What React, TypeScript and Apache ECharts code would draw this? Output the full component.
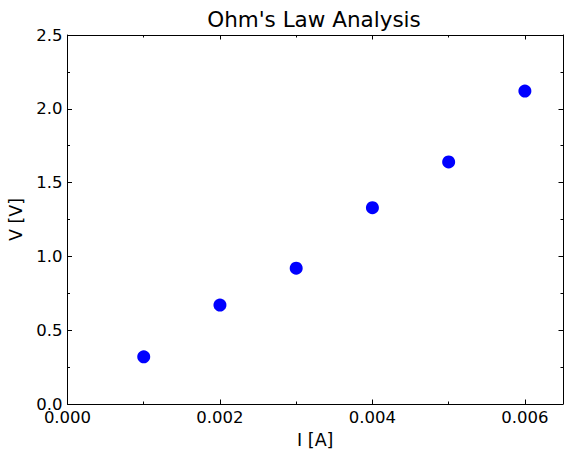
import { useEffect, useRef } from 'react';
import * as echarts from 'echarts';

// measured current (A) and voltage (V)
const currents = [0.001, 0.002, 0.003, 0.004, 0.005, 0.006];
const voltages = [0.32, 0.67, 0.92, 1.33, 1.64, 2.12];

// tick positions
const xMajor = [0, 0.002, 0.004, 0.006];
const xMinor = [0.001, 0.003, 0.005];
const yMajor = [0, 0.5, 1.0, 1.5, 2.0, 2.5];
const yMinor = [0.25, 0.75, 1.25, 1.75, 2.25];

const FONT = 'DejaVu Sans';
const X_MAX = 0.0065;
const Y_MAX = 2.5;

function xAxis(position: 'top' | 'bottom', ticks: number[], len: number, labels: boolean, line: boolean) {
  return {
    type: 'value' as const,
    position,
    min: 0,
    max: X_MAX,
    name: labels ? 'I [A]' : '',
    nameLocation: 'middle' as const,
    nameGap: 24,
    nameTextStyle: { fontFamily: FONT, fontSize: 17.5, color: '#000' },
    axisLine: { show: line, onZero: false, lineStyle: { color: '#000', width: 1 } },
    axisTick: { show: true, inside: true, length: len, customValues: ticks, lineStyle: { color: '#000', width: 1 } },
    axisLabel: {
      show: labels,
      customValues: ticks,
      margin: 5,
      fontFamily: FONT,
      fontSize: 16.5,
      color: '#000',
      formatter: (v: number) => v.toFixed(3),
    },
    splitLine: { show: false },
  };
}

function yAxis(position: 'left' | 'right', ticks: number[], len: number, labels: boolean, line: boolean) {
  return {
    type: 'value' as const,
    position,
    min: 0,
    max: Y_MAX,
    name: labels ? 'V [V]' : '',
    nameLocation: 'middle' as const,
    nameGap: 32,
    nameTextStyle: { fontFamily: FONT, fontSize: 17.5, color: '#000' },
    axisLine: { show: line, onZero: false, lineStyle: { color: '#000', width: 1 } },
    axisTick: { show: true, inside: true, length: len, customValues: ticks, lineStyle: { color: '#000', width: 1 } },
    axisLabel: {
      show: labels,
      customValues: ticks,
      margin: 5,
      fontFamily: FONT,
      fontSize: 16.5,
      color: '#000',
      formatter: (v: number) => v.toFixed(1),
    },
    splitLine: { show: false },
  };
}

export default function App() {
  const chartRef = useRef<HTMLDivElement>(null);

  useEffect(() => {
    if (!chartRef.current) return;
    const chart = echarts.init(chartRef.current, undefined, { renderer: 'svg' });

    const option: any = {
      animation: false,
      backgroundColor: '#fff',
      grid: { left: 67.5, right: 9, top: 35, bottom: 57, containLabel: false, outerBoundsMode: 'none' },
      graphic: [
        {
          type: 'text',
          x: 314,
          y: 19,
          style: {
            text: "Ohm's Law Analysis",
            fontFamily: FONT,
            fontSize: 21.5,
            fill: '#000',
            textAlign: 'center',
            textVerticalAlign: 'middle',
          },
        },
      ],
      // 0,1 carry the major ticks; 2,3 get flipped to the other side by echarts and carry minors
      xAxis: [
        xAxis('bottom', xMajor, 4.5, true, true),
        xAxis('top', xMajor, 4.5, false, true),
        xAxis('bottom', xMinor, 2.5, false, false),
        xAxis('top', xMinor, 2.5, false, false),
      ],
      yAxis: [
        yAxis('left', yMajor, 4.5, true, true),
        yAxis('right', yMajor, 4.5, false, true),
        yAxis('left', yMinor, 2.5, false, false),
        yAxis('right', yMinor, 2.5, false, false),
      ],
      series: [
        {
          type: 'scatter',
          xAxisIndex: 0,
          yAxisIndex: 0,
          symbol: 'circle',
          symbolSize: 13,
          itemStyle: { color: '#0000ff', opacity: 1 },
          data: currents.map((c, i) => [c, voltages[i]]),
        },
      ],
    };

    chart.setOption(option);
    return () => {
      chart.dispose();
    };
  }, []);

  return (
    <div
      ref={chartRef}
      style={{ position: 'fixed', left: 0, top: 0, width: 572, height: 461 }}
    />
  );
}
